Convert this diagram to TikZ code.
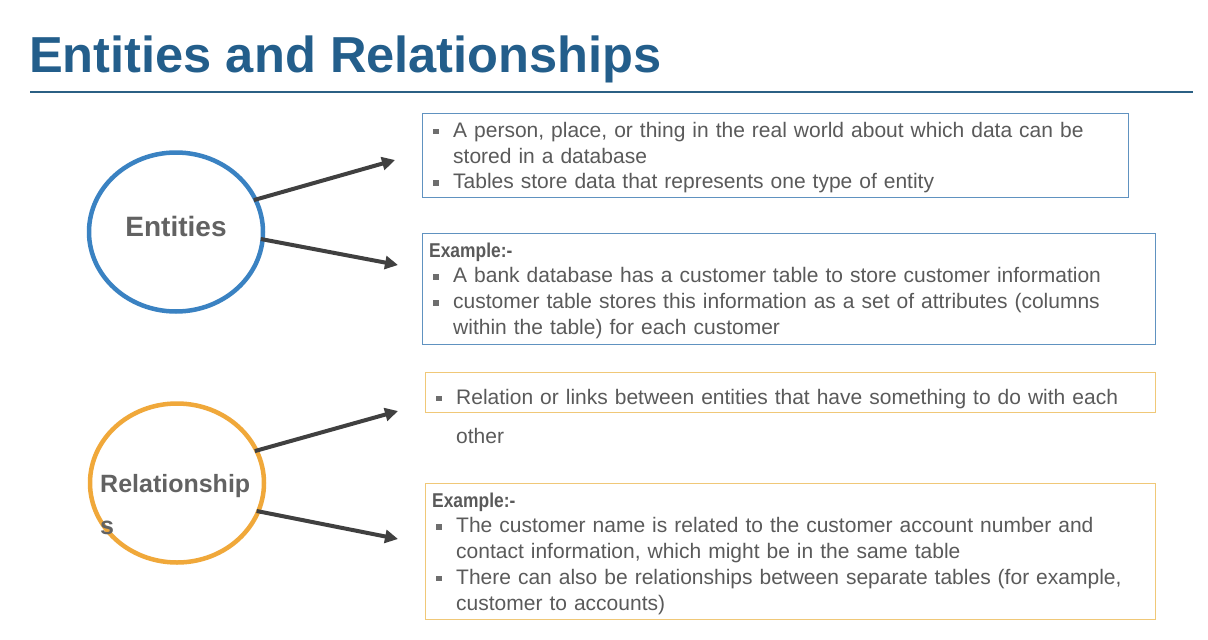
\documentclass[tikz,border=0pt]{standalone}
\usepackage{fontspec}
\setmainfont{Liberation Sans}
\usetikzlibrary{shapes.geometric,arrows.meta}

\definecolor{titleblue}{RGB}{35,94,139}
\definecolor{ruleblue}{RGB}{43,96,132}
\definecolor{entblue}{RGB}{58,130,194}
\definecolor{boxblue}{RGB}{96,146,192}
\definecolor{relorange}{RGB}{240,168,58}
\definecolor{boxorange}{RGB}{240,200,120}
\definecolor{bodygray}{RGB}{90,90,90}
\definecolor{labelgray}{RGB}{98,98,98}
\definecolor{arrowgray}{RGB}{64,64,64}
\definecolor{bulletgray}{RGB}{110,110,110}

% square bullet with hanging indent for list lines
\newcommand{\sqbullet}{\textcolor{bulletgray}{\rule[3pt]{5.5pt}{5.5pt}}}
\newcommand{\bitem}{\hangindent=24pt\hangafter=1\noindent\makebox[24pt][l]{\hspace{4pt}\sqbullet}}
\newcommand{\topstrut}{\rule{0pt}{15pt}}
\newcommand{\exhead}{{\fontsize{20}{25.7}\selectfont\bfseries\addfontfeature{FakeStretch=0.87}Example:-}}

\begin{document}
\begin{tikzpicture}[x=1pt,y=-1pt,
  body/.style={anchor=north west, inner sep=0pt, text width=740pt, align=left,
    text=bodygray, font=\fontsize{21}{25.7}\selectfont},
  bluebox/.style={draw=boxblue, line width=1.3pt, anchor=north west, inner sep=0pt},
  orangebox/.style={draw=boxorange, line width=1.3pt, anchor=north west, inner sep=0pt},
  topic/.style={ellipse, line width=4.5pt, minimum width=174pt, minimum height=159pt, inner sep=0pt},
  topiclabel/.style={inner sep=0pt, text=labelgray, font=\bfseries},
  link/.style={draw=arrowgray, line width=4pt, shorten <=-4pt,
    -{Triangle[length=13pt,width=13pt]}}
]
\fill[white] (0,0) rectangle (1208,640);
\useasboundingbox (0,0) rectangle (1208,640);

% heading
\node[anchor=base west, inner sep=0pt, text=titleblue,
  font=\fontsize{50.6}{60}\selectfont\bfseries] (title) at (29,72) {Entities and Relationships};
\draw[ruleblue, line width=2.5pt] (30,92) -- (1193,92);

% topics
\node[topic, draw=entblue] (ent) at (176,232) {};
\node[topiclabel, font=\fontsize{28}{34}\selectfont\bfseries] (entlbl) at (176,226) {Entities};

\node[topic, draw=relorange] (rel) at (177,483) {};
\node[topiclabel, anchor=north west, text width=170pt, align=left,
  font=\fontsize{25}{42.5}\selectfont\bfseries] (rellbl) at (100,472)
  {\rule{0pt}{20pt}Relationship\\s};

% description boxes
\node[bluebox, minimum width=706pt, minimum height=84pt] (b1) at (422,113) {};
\node[body] (t1) at (429,122) {%
  \bitem\topstrut A person, place, or thing in the real world about which data can be\newline stored in a database\par
  \bitem Tables store data that represents one type of entity\par};

\node[bluebox, minimum width=733pt, minimum height=111pt] (b2) at (422,233) {};
\node[body] (t2) at (429,242) {%
  \topstrut\exhead\par
  \bitem A bank database has a customer table to store customer information\par
  \bitem customer table stores this information as a set of attributes (columns\newline within the table) for each customer\par};

\node[orangebox, minimum width=730pt, minimum height=40pt] (b3) at (425,372) {};
\node[body, font=\fontsize{21}{39}\selectfont] (t3) at (432,389) {%
  \bitem\topstrut Relation or links between entities that have something to do with each\newline other\par};

\node[orangebox, minimum width=730pt, minimum height=136pt] (b4) at (425,483) {};
\node[body] (t4) at (432,492) {%
  \topstrut\exhead\par
  \bitem The customer name is related to the customer account number and\newline contact information, which might be in the same table\par
  \bitem There can also be relationships between separate tables (for example,\newline customer to accounts)\par};

% connectors
\coordinate (e1) at (395,160);
\coordinate (e2) at (398,265);
\coordinate (r1) at (398,411);
\coordinate (r2) at (398,539);
\draw[link] (ent.22) -- (e1);
\draw[link] (ent.-5) -- (e2);
\draw[link] (rel.22) -- (r1);
\draw[link] (rel.-19) -- (r2);
\end{tikzpicture}
\end{document}
